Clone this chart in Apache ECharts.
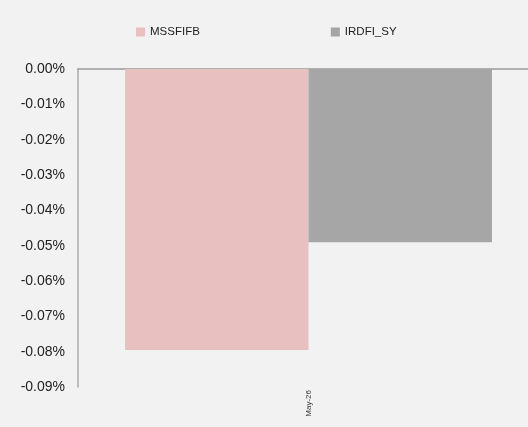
<!DOCTYPE html>
<html>
<head>
<meta charset="utf-8"/>
<script src="https://cdn.jsdelivr.net/npm/echarts@6/dist/echarts.min.js"></script>
<style>
html,body{margin:0;padding:0;background:#f2f2f2;overflow:hidden;}
/* plot area runs past the right edge of the picture, so the chart is a bit wider than the window */
#chart{width:539px;height:427px;}
</style>
</head>
<body>
<div id="chart"></div>
<script>
// data (percent units)
var categories = ['May-26'];
var mssfifb = [-0.0795];
var irdfiSy = [-0.049];

var chart = echarts.init(document.getElementById('chart'));
chart.setOption({
  backgroundColor: '#f2f2f2',
  animation: false,
  legend: {
    left: 136,
    top: 26,
    padding: 0,
    itemWidth: 9,
    itemHeight: 9,
    itemGap: 131,
    icon: 'rect',
    textStyle: {fontFamily: 'Liberation Sans', fontSize: 11.5, color: '#222'},
    data: ['MSSFIFB', 'IRDFI_SY']
  },
  grid: {left: 78, right: 0, top: 69, bottom: 40, containLabel: false},
  xAxis: [{
    type: 'category',
    position: 'top',
    data: categories,
    axisLine: {onZero: false, lineStyle: {color: '#9a9a9a', width: 1.5}},
    axisTick: {show: false},
    axisLabel: {show: false}
  }, {
    type: 'category',
    position: 'bottom',
    data: categories,
    axisLine: {show: false},
    axisTick: {show: false},
    axisLabel: {rotate: 90, fontSize: 8, margin: 3, color: '#333', fontFamily: 'Liberation Sans'}
  }],
  yAxis: {
    type: 'value',
    min: -0.09,
    max: 0,
    interval: 0.01,
    axisLine: {show: true, lineStyle: {color: '#aaaaaa', width: 1.5}},
    axisTick: {show: false},
    splitLine: {show: false},
    axisLabel: {
      fontFamily: 'Liberation Sans',
      fontSize: 14,
      color: '#222',
      margin: 13,
      formatter: function (v) { return v.toFixed(2) + '%'; }
    }
  },
  series: [{
    name: 'MSSFIFB',
    type: 'bar',
    xAxisIndex: 0,
    data: mssfifb,
    itemStyle: {color: '#e8c0c0'},
    barGap: '0%',
    barCategoryGap: '20.4%'
  }, {
    name: 'IRDFI_SY',
    type: 'bar',
    xAxisIndex: 0,
    data: irdfiSy,
    itemStyle: {color: '#a6a6a6'}
  }]
});
</script>
</body>
</html>
